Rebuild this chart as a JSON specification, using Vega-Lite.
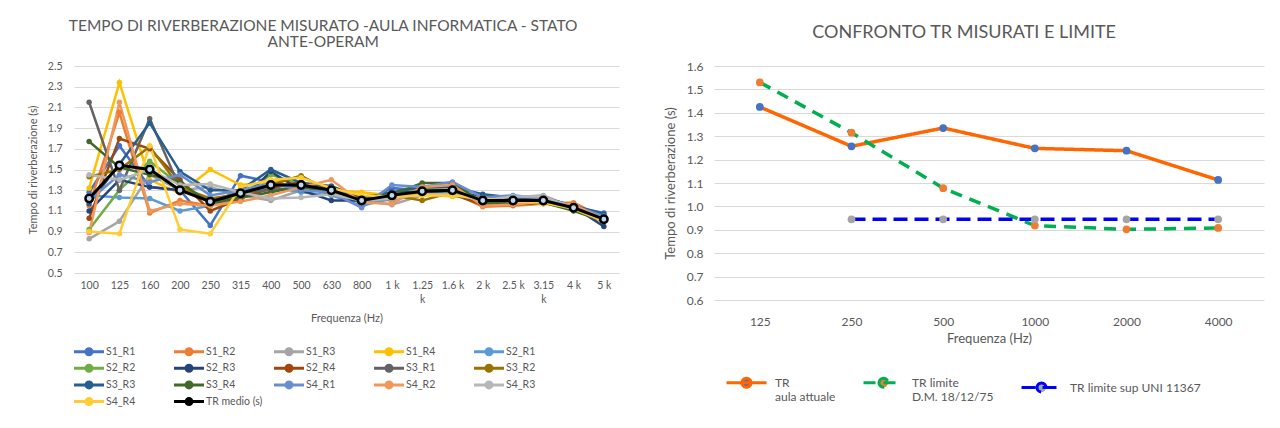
{
  "$schema": "https://vega.github.io/schema/vega-lite/v6.json",
  "padding": {"left": 27, "top": 18, "right": 5, "bottom": 2},
  "background": "white",
  "spacing": 45,
  "config": {
    "font": "Lato",
    "view": {"stroke": null},
    "axis": {"domain": false, "ticks": false, "gridColor": "#D9D9D9", "gridWidth": 1, "labelColor": "#595959", "titleColor": "#595959", "titleFontWeight": "normal"},
    "legend": {"labelColor": "#595959", "title": null},
    "title": {"color": "#595959", "fontWeight": "normal"}
  },
  "resolve": {
    "scale": {"stroke": "independent", "fill": "independent", "strokeDash": "independent", "x": "independent", "y": "independent"},
    "legend": {"stroke": "independent", "fill": "independent", "strokeDash": "independent"}
  },
  "hconcat": [
    {
      "width": 545,
      "height": 207,
      "title": {"text": ["TEMPO DI RIVERBERAZIONE MISURATO -AULA INFORMATICA - STATO", "ANTE-OPERAM"], "fontSize": 15.5, "lineHeight": 16, "offset": 11, "frame": "bounds", "anchor": "middle"},
      "data": {"values": [
        {"f": "100", "S1_R1": 1.28, "S1_R2": 1.15, "S1_R3": 0.83, "S1_R4": 1.32, "S2_R1": 1.25, "S2_R2": 0.92, "S2_R3": 1.10, "S2_R4": 1.03, "S3_R1": 2.15, "S3_R2": 1.43, "S3_R3": 1.17, "S3_R4": 1.77, "S4_R1": 1.20, "S4_R2": 0.89, "S4_R3": 1.45, "S4_R4": 0.90, "TR medio (s)": 1.22},
        {"f": "125", "S1_R1": 1.73, "S1_R2": 2.05, "S1_R3": 1.00, "S1_R4": 2.34, "S2_R1": 1.23, "S2_R2": 1.30, "S2_R3": 1.40, "S2_R4": 1.80, "S3_R1": 1.30, "S3_R2": 1.50, "S3_R3": 1.55, "S3_R4": 1.52, "S4_R1": 1.45, "S4_R2": 2.15, "S4_R3": 1.40, "S4_R4": 0.88, "TR medio (s)": 1.54},
        {"f": "160", "S1_R1": 1.33, "S1_R2": 1.08, "S1_R3": 1.45, "S1_R4": 1.40, "S2_R1": 1.22, "S2_R2": 1.58, "S2_R3": 1.33, "S2_R4": 1.70, "S3_R1": 1.99, "S3_R2": 1.72, "S3_R3": 1.95, "S3_R4": 1.45, "S4_R1": 1.38, "S4_R2": 1.10, "S4_R3": 1.50, "S4_R4": 1.73, "TR medio (s)": 1.50},
        {"f": "200", "S1_R1": 1.30, "S1_R2": 1.20, "S1_R3": 1.30, "S1_R4": 1.27, "S2_R1": 1.10, "S2_R2": 1.35, "S2_R3": 1.30, "S2_R4": 1.40, "S3_R1": 1.32, "S3_R2": 1.33, "S3_R3": 1.48, "S3_R4": 1.38, "S4_R1": 1.45, "S4_R2": 1.17, "S4_R3": 1.35, "S4_R4": 0.92, "TR medio (s)": 1.30},
        {"f": "250", "S1_R1": 0.96, "S1_R2": 1.15, "S1_R3": 1.33, "S1_R4": 1.50, "S2_R1": 1.15, "S2_R2": 1.18, "S2_R3": 1.22, "S2_R4": 1.10, "S3_R1": 1.20, "S3_R2": 1.22, "S3_R3": 1.30, "S3_R4": 1.17, "S4_R1": 1.25, "S4_R2": 1.15, "S4_R3": 1.36, "S4_R4": 0.88, "TR medio (s)": 1.19},
        {"f": "315", "S1_R1": 1.44, "S1_R2": 1.22, "S1_R3": 1.25, "S1_R4": 1.35, "S2_R1": 1.27, "S2_R2": 1.25, "S2_R3": 1.20, "S2_R4": 1.22, "S3_R1": 1.28, "S3_R2": 1.26, "S3_R3": 1.30, "S3_R4": 1.23, "S4_R1": 1.30, "S4_R2": 1.19, "S4_R3": 1.28, "S4_R4": 1.33, "TR medio (s)": 1.27},
        {"f": "400", "S1_R1": 1.38, "S1_R2": 1.35, "S1_R3": 1.20, "S1_R4": 1.38, "S2_R1": 1.33, "S2_R2": 1.45, "S2_R3": 1.48, "S2_R4": 1.32, "S3_R1": 1.30, "S3_R2": 1.35, "S3_R3": 1.50, "S3_R4": 1.28, "S4_R1": 1.37, "S4_R2": 1.25, "S4_R3": 1.22, "S4_R4": 1.40, "TR medio (s)": 1.35},
        {"f": "500", "S1_R1": 1.32, "S1_R2": 1.36, "S1_R3": 1.30, "S1_R4": 1.43, "S2_R1": 1.28, "S2_R2": 1.35, "S2_R3": 1.30, "S2_R4": 1.38, "S3_R1": 1.33, "S3_R2": 1.44, "S3_R3": 1.37, "S3_R4": 1.34, "S4_R1": 1.30, "S4_R2": 1.33, "S4_R3": 1.23, "S4_R4": 1.42, "TR medio (s)": 1.35},
        {"f": "630", "S1_R1": 1.27, "S1_R2": 1.33, "S1_R3": 1.30, "S1_R4": 1.30, "S2_R1": 1.25, "S2_R2": 1.28, "S2_R3": 1.20, "S2_R4": 1.30, "S3_R1": 1.30, "S3_R2": 1.28, "S3_R3": 1.34, "S3_R4": 1.26, "S4_R1": 1.28, "S4_R2": 1.40, "S4_R3": 1.26, "S4_R4": 1.32, "TR medio (s)": 1.30},
        {"f": "800", "S1_R1": 1.18, "S1_R2": 1.22, "S1_R3": 1.20, "S1_R4": 1.28, "S2_R1": 1.15, "S2_R2": 1.22, "S2_R3": 1.20, "S2_R4": 1.20, "S3_R1": 1.22, "S3_R2": 1.20, "S3_R3": 1.22, "S3_R4": 1.24, "S4_R1": 1.13, "S4_R2": 1.18, "S4_R3": 1.20, "S4_R4": 1.25, "TR medio (s)": 1.20},
        {"f": "1 k", "S1_R1": 1.32, "S1_R2": 1.20, "S1_R3": 1.16, "S1_R4": 1.25, "S2_R1": 1.22, "S2_R2": 1.27, "S2_R3": 1.28, "S2_R4": 1.25, "S3_R1": 1.24, "S3_R2": 1.25, "S3_R3": 1.28, "S3_R4": 1.26, "S4_R1": 1.35, "S4_R2": 1.17, "S4_R3": 1.22, "S4_R4": 1.24, "TR medio (s)": 1.25},
        {"f": "1.25 k", "S1_R1": 1.30, "S1_R2": 1.27, "S1_R3": 1.25, "S1_R4": 1.26, "S2_R1": 1.30, "S2_R2": 1.32, "S2_R3": 1.28, "S2_R4": 1.27, "S3_R1": 1.30, "S3_R2": 1.20, "S3_R3": 1.33, "S3_R4": 1.37, "S4_R1": 1.33, "S4_R2": 1.33, "S4_R3": 1.26, "S4_R4": 1.25, "TR medio (s)": 1.29},
        {"f": "1.6 k", "S1_R1": 1.30, "S1_R2": 1.28, "S1_R3": 1.27, "S1_R4": 1.24, "S2_R1": 1.27, "S2_R2": 1.33, "S2_R3": 1.30, "S2_R4": 1.26, "S3_R1": 1.30, "S3_R2": 1.28, "S3_R3": 1.33, "S3_R4": 1.37, "S4_R1": 1.38, "S4_R2": 1.35, "S4_R3": 1.26, "S4_R4": 1.25, "TR medio (s)": 1.30},
        {"f": "2 k", "S1_R1": 1.22, "S1_R2": 1.14, "S1_R3": 1.20, "S1_R4": 1.23, "S2_R1": 1.20, "S2_R2": 1.19, "S2_R3": 1.23, "S2_R4": 1.16, "S3_R1": 1.21, "S3_R2": 1.19, "S3_R3": 1.26, "S3_R4": 1.18, "S4_R1": 1.23, "S4_R2": 1.15, "S4_R3": 1.20, "S4_R4": 1.22, "TR medio (s)": 1.20},
        {"f": "2.5 k", "S1_R1": 1.22, "S1_R2": 1.15, "S1_R3": 1.23, "S1_R4": 1.20, "S2_R1": 1.21, "S2_R2": 1.18, "S2_R3": 1.22, "S2_R4": 1.16, "S3_R1": 1.22, "S3_R2": 1.18, "S3_R3": 1.23, "S3_R4": 1.17, "S4_R1": 1.25, "S4_R2": 1.16, "S4_R3": 1.24, "S4_R4": 1.19, "TR medio (s)": 1.20},
        {"f": "3.15 k", "S1_R1": 1.21, "S1_R2": 1.17, "S1_R3": 1.25, "S1_R4": 1.17, "S2_R1": 1.20, "S2_R2": 1.19, "S2_R3": 1.22, "S2_R4": 1.18, "S3_R1": 1.22, "S3_R2": 1.18, "S3_R3": 1.23, "S3_R4": 1.18, "S4_R1": 1.22, "S4_R2": 1.19, "S4_R3": 1.24, "S4_R4": 1.18, "TR medio (s)": 1.20},
        {"f": "4 k", "S1_R1": 1.14, "S1_R2": 1.18, "S1_R3": 1.13, "S1_R4": 1.13, "S2_R1": 1.14, "S2_R2": 1.12, "S2_R3": 1.14, "S2_R4": 1.13, "S3_R1": 1.14, "S3_R2": 1.12, "S3_R3": 1.15, "S3_R4": 1.10, "S4_R1": 1.15, "S4_R2": 1.16, "S4_R3": 1.13, "S4_R4": 1.12, "TR medio (s)": 1.13},
        {"f": "5 k", "S1_R1": 1.08, "S1_R2": 1.03, "S1_R3": 1.02, "S1_R4": 1.00, "S2_R1": 1.05, "S2_R2": 1.02, "S2_R3": 0.95, "S2_R4": 1.01, "S3_R1": 1.03, "S3_R2": 1.01, "S3_R3": 1.07, "S3_R4": 1.00, "S4_R1": 1.05, "S4_R2": 1.02, "S4_R3": 1.03, "S4_R4": 1.00, "TR medio (s)": 1.02}
      ]},
      "transform": [{"fold": ["S1_R1", "S1_R2", "S1_R3", "S1_R4", "S2_R1", "S2_R2", "S2_R3", "S2_R4", "S3_R1", "S3_R2", "S3_R3", "S3_R4", "S4_R1", "S4_R2", "S4_R3", "S4_R4", "TR medio (s)"], "as": ["s", "v"]}],
      "encoding": {
        "x": {"field": "f", "type": "ordinal", "sort": ["100", "125", "160", "200", "250", "315", "400", "500", "630", "800", "1 k", "1.25 k", "1.6 k", "2 k", "2.5 k", "3.15 k", "4 k", "5 k"], "scale": {"type": "point", "padding": 0.5},
          "axis": {"labelAngle": 0, "title": "Frequenza (Hz)", "labelExpr": "datum.label == '1.25 k' || datum.label == '3.15 k' ? split(datum.label, ' ') : datum.label", "labelPadding": 7, "titlePadding": 8, "labelFontSize": 10.5, "labelLineHeight": 14, "titleFontSize": 11, "grid": false, "labelOverlap": false}},
        "y": {"field": "v", "type": "quantitative", "scale": {"domain": [0.5, 2.5], "nice": false, "zero": false},
          "axis": {"values": [0.5, 0.7, 0.9, 1.1, 1.3, 1.5, 1.7, 1.9, 2.1, 2.3, 2.5], "format": ".1f", "title": "Tempo di riverberazione (s)", "labelPadding": 12, "titlePadding": 9, "labelFontSize": 10.5, "titleFontSize": 11}}
      },
      "layer": [
        {"transform": [{"filter": "datum.s != 'TR medio (s)'"}], "mark": {"type": "line", "strokeWidth": 2.5},
          "encoding": {"stroke": {"field": "s", "type": "nominal", "scale": {"domain": ["S1_R1", "S1_R2", "S1_R3", "S1_R4", "S2_R1", "S2_R2", "S2_R3", "S2_R4", "S3_R1", "S3_R2", "S3_R3", "S3_R4", "S4_R1", "S4_R2", "S4_R3", "S4_R4", "TR medio (s)"], "range": ["#4472C4", "#ED7D31", "#A5A5A5", "#FFC000", "#5B9BD5", "#70AD47", "#264478", "#9E480E", "#636363", "#997300", "#255E91", "#43682B", "#698ED0", "#F1975A", "#B7B7B7", "#FFCD33", "#000000"]},
            "legend": {"orient": "bottom", "columns": 5, "gridAlign": "all", "symbolType": "M-1.375,0L6.125,0M1.625,0A0.75,0.75,0,1,1,3.125,0A0.75,0.75,0,1,1,1.625,0Z", "symbolSize": 64, "symbolStrokeWidth": 3, "labelFontSize": 10.5, "columnPadding": 5, "rowPadding": -2.3, "labelOffset": 21, "offset": 22}}}},
        {"transform": [{"filter": "datum.s != 'TR medio (s)'"}], "mark": {"type": "point", "filled": true, "size": 30, "opacity": 1},
          "encoding": {"fill": {"field": "s", "type": "nominal", "scale": {"domain": ["S1_R1", "S1_R2", "S1_R3", "S1_R4", "S2_R1", "S2_R2", "S2_R3", "S2_R4", "S3_R1", "S3_R2", "S3_R3", "S3_R4", "S4_R1", "S4_R2", "S4_R3", "S4_R4", "TR medio (s)"], "range": ["#4472C4", "#ED7D31", "#A5A5A5", "#FFC000", "#5B9BD5", "#70AD47", "#264478", "#9E480E", "#636363", "#997300", "#255E91", "#43682B", "#698ED0", "#F1975A", "#B7B7B7", "#FFCD33", "#BDD7EE"]}}}},
        {"transform": [{"filter": "datum.s == 'TR medio (s)'"}], "mark": {"type": "line", "strokeWidth": 3},
          "encoding": {"stroke": {"field": "s", "type": "nominal"}}},
        {"transform": [{"filter": "datum.s == 'TR medio (s)'"}], "mark": {"type": "point", "filled": true, "size": 55, "opacity": 1, "strokeWidth": 2.5, "stroke": "#000000"},
          "encoding": {"fill": {"field": "s", "type": "nominal"}}}
      ]
    },
    {
      "width": 550,
      "height": 234,
      "title": {"text": "CONFRONTO TR MISURATI E LIMITE", "fontSize": 18, "offset": 18, "frame": "bounds", "anchor": "middle"},
      "data": {"values": [
        {"f": "125", "s": "TR aula attuale", "v": 1.425},
        {"f": "250", "s": "TR aula attuale", "v": 1.257},
        {"f": "500", "s": "TR aula attuale", "v": 1.335},
        {"f": "1000", "s": "TR aula attuale", "v": 1.248},
        {"f": "2000", "s": "TR aula attuale", "v": 1.238},
        {"f": "4000", "s": "TR aula attuale", "v": 1.113},
        {"f": "125", "s": "TR limite D.M. 18/12/75", "v": 1.53},
        {"f": "250", "s": "TR limite D.M. 18/12/75", "v": 1.315},
        {"f": "500", "s": "TR limite D.M. 18/12/75", "v": 1.078},
        {"f": "1000", "s": "TR limite D.M. 18/12/75", "v": 0.918},
        {"f": "2000", "s": "TR limite D.M. 18/12/75", "v": 0.902},
        {"f": "4000", "s": "TR limite D.M. 18/12/75", "v": 0.908},
        {"f": "250", "s": "TR limite sup UNI 11367", "v": 0.945},
        {"f": "500", "s": "TR limite sup UNI 11367", "v": 0.945},
        {"f": "1000", "s": "TR limite sup UNI 11367", "v": 0.945},
        {"f": "2000", "s": "TR limite sup UNI 11367", "v": 0.945},
        {"f": "4000", "s": "TR limite sup UNI 11367", "v": 0.945}
      ]},
      "encoding": {
        "x": {"field": "f", "type": "ordinal", "sort": ["125", "250", "500", "1000", "2000", "4000"], "scale": {"type": "point", "padding": 0.5},
          "axis": {"labelAngle": 0, "title": "Frequenza (Hz)", "labelPadding": 16, "titlePadding": 5, "labelFontSize": 12, "titleFontSize": 13, "grid": false}},
        "y": {"field": "v", "type": "quantitative", "scale": {"domain": [0.6, 1.6], "nice": false, "zero": false},
          "axis": {"values": [0.6, 0.7, 0.8, 0.9, 1.0, 1.1, 1.2, 1.3, 1.4, 1.5, 1.6], "format": ".1f", "title": "Tempo di riverberazione (s)", "labelPadding": 11, "titlePadding": 9, "labelFontSize": 12, "titleFontSize": 13}}
      },
      "layer": [
        {"mark": {"type": "line", "strokeWidth": 3.5},
          "encoding": {
            "stroke": {"field": "s", "type": "nominal", "scale": {"domain": ["TR aula attuale", "TR limite D.M. 18/12/75", "TR limite sup UNI 11367"], "range": ["#FF6600", "#00B050", "#0000FF"]},
              "legend": {"orient": "bottom", "direction": "horizontal", "gridAlign": "each", "symbolType": "M-1.2,0L2.8,0M0.35,0A0.45,0.45,0,1,1,1.25,0A0.45,0.45,0,1,1,0.35,0Z", "symbolSize": 400, "symbolStrokeWidth": 3, "labelFontSize": 12, "labelLineHeight": 17, "columnPadding": 21, "labelOffset": 25, "offset": 13, "padding": 13,
                "labelExpr": "datum.label == 'TR aula attuale' ? ['TR', 'aula attuale'] : datum.label == 'TR limite D.M. 18/12/75' ? ['TR limite', 'D.M. 18/12/75'] : datum.label"}},
            "strokeDash": {"field": "s", "type": "nominal", "scale": {"domain": ["TR aula attuale", "TR limite D.M. 18/12/75", "TR limite sup UNI 11367"], "range": [[1, 0], [12, 8], [14, 7]]}}
          }},
        {"mark": {"type": "point", "filled": true, "size": 60, "opacity": 1},
          "encoding": {"fill": {"field": "s", "type": "nominal", "scale": {"domain": ["TR aula attuale", "TR limite D.M. 18/12/75", "TR limite sup UNI 11367"], "range": ["#4472C4", "#ED7D31", "#A5A5A5"]}}}}
      ]
    }
  ]
}
